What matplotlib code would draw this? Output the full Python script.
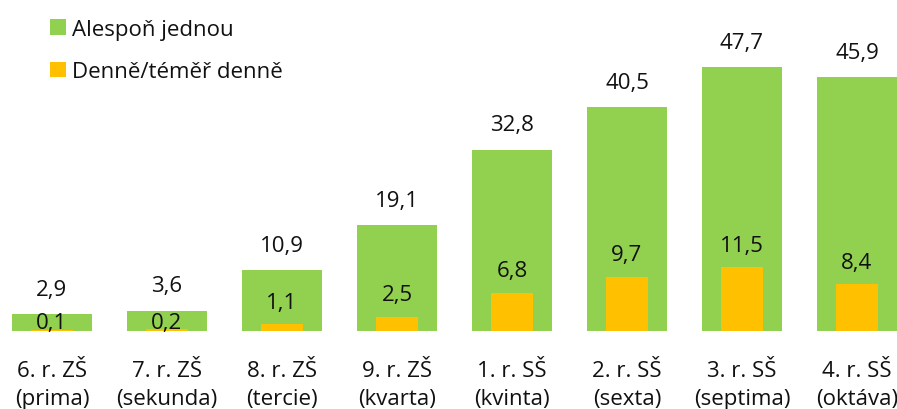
import matplotlib
matplotlib.use("Agg")
import matplotlib.pyplot as plt
from matplotlib.patches import Patch
import matplotlib.transforms as mtransforms

categories = ["6. r. ZŠ\n(prima)", "7. r. ZŠ\n(sekunda)", "8. r. ZŠ\n(tercie)", "9. r. ZŠ\n(kvarta)",
              "1. r. SŠ\n(kvinta)", "2. r. SŠ\n(sexta)", "3. r. SŠ\n(septima)", "4. r. SŠ\n(oktáva)"]
alespon = [2.9, 3.6, 10.9, 19.1, 32.8, 40.5, 47.7, 45.9]
denne = [0.1, 0.2, 1.1, 2.5, 6.8, 9.7, 11.5, 8.4]
series_names = ["Alespoň jednou", "Denně/téměř denně"]

GREEN = "#92D050"
YELLOW = "#FFC000"
FONT = "Open Sans"
FS = 16

plt.rcParams['font.family'] = [FONT, 'DejaVu Sans']

W, H = 897, 410
fig = plt.figure(figsize=(W / 100, H / 100), dpi=100)
base_px = 331.5
ax = fig.add_axes([0, (H - base_px) / H, 1, base_px / H])
ax.set_xlim(-0.452, 7.348)
ax.set_ylim(0, base_px / 5.518)
ax.axis("off")

x = list(range(len(categories)))
ax.bar(x, alespon, width=0.696, color=GREEN, zorder=2)
ax.bar(x, denne, width=0.365, color=YELLOW, zorder=3)

def fmt(v):
    return f"{v:.1f}".replace(".", ",")

for i in x:
    t = mtransforms.offset_copy(ax.transData, fig=fig, x=0, y=25, units='dots')
    ax.text(i, alespon[i], fmt(alespon[i]), transform=t, ha='center', va='center',
            fontsize=FS, color='#111111', zorder=5)
    dy = 22 if alespon[i] - denne[i] > 5 else 7
    t2 = mtransforms.offset_copy(ax.transData, fig=fig, x=0, y=dy, units='dots')
    ax.text(i, denne[i], fmt(denne[i]), transform=t2, ha='center', va='center',
            fontsize=FS, color='#111111', zorder=5)
    tc = mtransforms.offset_copy(ax.transData, fig=fig, x=0, y=-(385.5 - base_px), units='dots')
    ax.text(i, 0, categories[i], transform=tc, ha='center', va='center',
            fontsize=FS, color='#111111', linespacing=1.42)

handles = [Patch(facecolor=GREEN, edgecolor='none'), Patch(facecolor=YELLOW, edgecolor='none')]
leg = fig.legend(handles, series_names, loc='upper left', bbox_to_anchor=(50 / W, 1 - 20 / H),
                 frameon=False, fontsize=FS, handlelength=0.7, handleheight=0.7,
                 handletextpad=0.3, labelspacing=0.95, borderaxespad=0, borderpad=0)
for txt in leg.get_texts():
    txt.set_color('#111111')

fig.savefig("out.png", dpi=100)
